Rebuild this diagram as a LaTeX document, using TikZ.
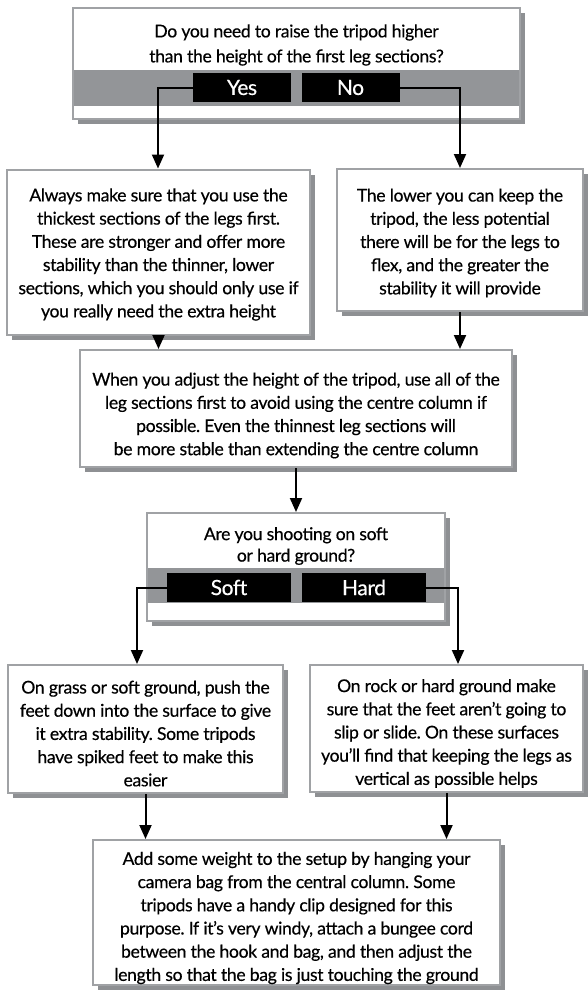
\documentclass[tikz,border=0pt]{standalone}
\usepackage{fontspec}
\setmainfont{Lato}[LetterSpace=-2,FakeBold=0.4]
\usetikzlibrary{arrows.meta,shadows}
\definecolor{rimgray}{HTML}{A0A2A5}
\definecolor{shadegray}{HTML}{8E9093}
\definecolor{bandgray}{HTML}{939598}
\frenchspacing

\begin{document}
\begin{tikzpicture}[x=1pt,y=-1pt,
  panel/.style={draw=rimgray, line width=2pt, fill=white, inner sep=0pt,
    drop shadow={shadow xshift=5pt, shadow yshift=-5pt, fill=shadegray, opacity=1}},
  tag/.style={fill=black, text=white, inner sep=0pt, minimum height=29pt,
    font=\fontsize{21}{24}\selectfont},
  body/.style={align=center, inner sep=0pt, font=\fontsize{17.6}{23.2}\selectfont},
  ask/.style={align=center, inner sep=0pt, font=\fontsize{17.6}{25}\selectfont},
  link/.style={line width=2pt, -{Triangle[length=14pt,width=12pt]}}]

\useasboundingbox (0,0) rectangle (588,990);

% first question with its answer bar
\node[panel, minimum width=447pt, minimum height=111pt] (q1) at (296.5,63.5) {};
\fill[bandgray] (74,70) rectangle (519,106);
\node[ask] (q1text) at (296.5,45) {Do you need to raise the tripod higher\\than the height of the first leg sections?};
\node[tag, minimum width=98pt] (yes) at (242,87.5) {Yes};
\node[tag, minimum width=98pt] (no) at (350.5,87.5) {No};

% answers to the first question
\node[panel, minimum width=303pt, minimum height=165pt] (a1) at (158.5,252) {};
\node[body] (a1text) at (158.5,254.5) {Always make sure that you use the\\thickest sections of the legs first.\\These are stronger and offer more\\stability than the thinner, lower\\sections, which you should only use if\\you really need the extra height};

\node[panel, minimum width=246pt, minimum height=142pt] (b1) at (460,240) {};
\node[body] (b1text) at (460,243) {The lower you can keep the\\tripod, the less potential\\there will be for the legs to\\flex, and the greater the\\stability it will provide};

% common advice
\node[panel, minimum width=432pt, minimum height=117pt] (m) at (296,408.5) {};
\node[body] (mtext) at (296,415.5) {When you adjust the height of the tripod, use all of the\\leg sections first to avoid using the centre column if\\possible. Even the thinnest leg sections will\\be more stable than extending the centre column};

% second question
\node[panel, minimum width=298pt, minimum height=108pt] (q2) at (296,567) {};
\fill[bandgray] (148,568) rectangle (444,603);
\node[ask, font=\fontsize{17.6}{21.5}\selectfont] (q2text) at (296,546) {Are you shooting on soft\\or hard ground?};
\node[tag, minimum width=124pt] (soft) at (229,587.5) {Soft};
\node[tag, minimum width=124pt] (hard) at (364,587.5) {Hard};

% answers to the second question
\node[panel, minimum width=275pt, minimum height=128pt] (c1) at (145.5,729) {};
\node[body] (c1text) at (145.5,733.5) {On grass or soft ground, push the\\feet down into the surface to give\\it extra stability. Some tripods\\have spiked feet to make this\\easier};

\node[panel, minimum width=273pt, minimum height=127pt] (d1) at (446.5,728.5) {};
\node[body] (d1text) at (446.5,733.5) {On rock or hard ground make\\sure that the feet aren’t going to\\slip or slide. On these surfaces\\you’ll find that keeping the legs as\\vertical as possible helps};

% final advice
\node[panel, minimum width=407pt, minimum height=145pt] (e) at (296.5,912.5) {};
\node[body] (etext) at (296.5,918) {Add some weight to the setup by hanging your\\camera bag from the central column. Some\\tripods have a handy clip designed for this\\purpose. If it’s very windy, attach a bungee cord\\between the hook and bag, and then adjust the\\length so that the bag is just touching the ground};

% connectors
\coordinate (yesturn) at (158,87.5);
\coordinate (noturn) at (460,87.5);
\coordinate (softturn) at (137,587.5);
\coordinate (hardturn) at (458,587.5);
\draw[link] (yes.west) -- (yesturn) -- (yesturn |- a1.north);
\draw[link] (no.east) -- (noturn) -- (noturn |- b1.north);
\draw[link] (a1.south) -- (a1.south |- m.north);
\draw[link] (b1.south) -- (b1.south |- m.north);
\draw[link] (m.south) -- (q2.north);
\draw[link] (soft.west) -- (softturn) -- (softturn |- c1.north);
\draw[link] (hard.east) -- (hardturn) -- (hardturn |- d1.north);
\draw[link] (c1.south) -- (c1.south |- e.north);
\draw[link] (d1.south) -- (d1.south |- e.north);
\end{tikzpicture}
\end{document}
